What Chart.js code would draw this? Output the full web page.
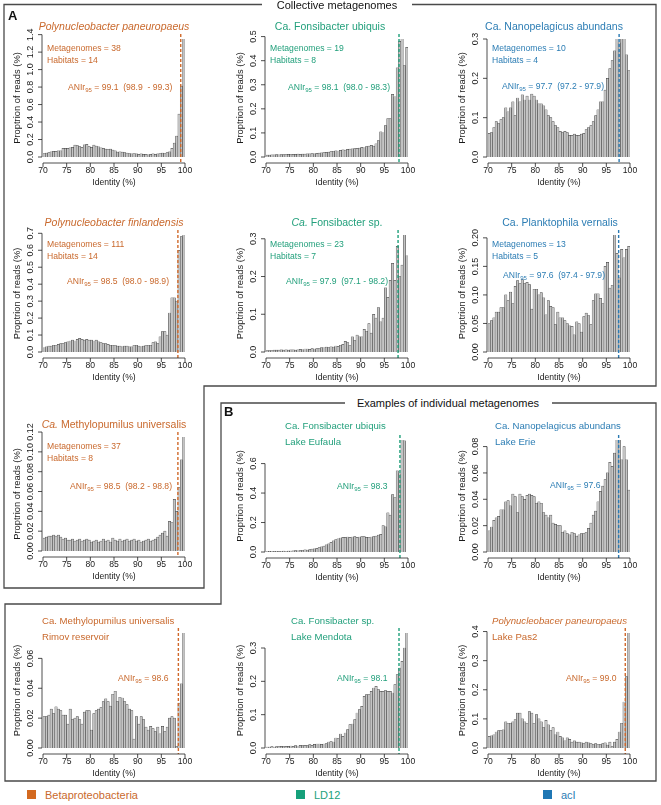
<!DOCTYPE html>
<html>
<head>
<meta charset="utf-8">
<title>ANIr histograms</title>
<script src="https://cdn.jsdelivr.net/npm/chart.js@4.4.1/dist/chart.umd.min.js"></script>
<style>
  body { margin: 0; background: #fff; }
  #page { position: relative; width: 661px; height: 805px; overflow: hidden; font-family: "Liberation Sans", Arial, sans-serif; }
  #page canvas { position: absolute; }
  .t { position: absolute; white-space: pre; line-height: 1; }
  .ttl { font-size: 10.5px; }
  .ttlB { font-size: 9.6px; }
  .st { font-size: 8.6px; }
  .hdr { font-size: 11px; color: #111; }
  .lab { font-size: 13px; font-weight: bold; color: #111; }
  .leg { font-size: 11px; }
  .sq { position: absolute; width: 9px; height: 9px; }
  sub { font-size: 70%; vertical-align: -2px; line-height: 0; }
  .beta { color: #c9692d; } .ld12 { color: #23a07c; } .aci { color: #2c7db4; }
</style>
</head>
<body>
<div id="page">
  <svg width="661" height="805" style="position:absolute;left:0;top:0">
    <polyline points="262,4.5 4,4.5 4,588 204,588 204,386 656,386 656,4.5 412,4.5" fill="none" stroke="#4a4a4a" stroke-width="1.3"/>
    <polyline points="345,403 221,403 221,604 5,604 5,781 656,781 656,403 552,403" fill="none" stroke="#4a4a4a" stroke-width="1.3"/>
  </svg>
</div>
<script>
// identity bins of 0.5 % between 70 and 100
const bins = Array.from({ length: 60 }, (_, i) => 70.25 + i * 0.5);
const xTicks = [70, 75, 80, 85, 90, 95, 100];

// A - collective metagenomes
const pPaneuropaeus = [
  0.040,0.045,0.050,0.060,0.065,0.065,0.070,0.070,0.100,0.100,
  0.100,0.105,0.110,0.135,0.130,0.120,0.110,0.140,0.145,0.120,
  0.110,0.135,0.125,0.115,0.105,0.100,0.090,0.085,0.090,0.080,
  0.070,0.055,0.060,0.055,0.050,0.045,0.040,0.035,0.040,0.035,
  0.030,0.035,0.030,0.030,0.025,0.030,0.035,0.030,0.035,0.040,
  0.045,0.040,0.050,0.060,0.100,0.160,0.240,0.490,0.810,1.350];
const fUbiquis = [
  0.008,0.008,0.009,0.009,0.010,0.009,0.010,0.010,0.010,0.011,
  0.010,0.011,0.011,0.012,0.011,0.012,0.012,0.013,0.013,0.014,
  0.013,0.015,0.016,0.017,0.018,0.019,0.020,0.022,0.024,0.026,
  0.025,0.028,0.030,0.029,0.032,0.033,0.034,0.035,0.036,0.037,
  0.040,0.038,0.043,0.045,0.048,0.045,0.055,0.068,0.105,0.100,
  0.130,0.160,0.160,0.260,0.250,0.370,0.480,0.490,0.380,0.455];
const nAbundans = [
  0.060,0.062,0.075,0.090,0.085,0.095,0.100,0.125,0.115,0.125,
  0.140,0.105,0.150,0.140,0.158,0.145,0.155,0.145,0.160,0.155,
  0.145,0.135,0.135,0.130,0.120,0.105,0.100,0.090,0.080,0.075,
  0.065,0.062,0.065,0.062,0.055,0.055,0.058,0.055,0.055,0.058,
  0.060,0.070,0.075,0.080,0.090,0.105,0.120,0.140,0.140,0.170,
  0.200,0.225,0.245,0.270,0.300,0.290,0.300,0.300,0.260,0.220];
const pFinlandensis = [
  0.025,0.030,0.035,0.035,0.040,0.040,0.045,0.050,0.050,0.055,
  0.060,0.065,0.070,0.065,0.075,0.080,0.075,0.070,0.075,0.070,
  0.070,0.065,0.070,0.060,0.055,0.050,0.050,0.045,0.040,0.040,
  0.040,0.035,0.035,0.030,0.035,0.035,0.030,0.030,0.040,0.040,
  0.035,0.030,0.035,0.040,0.040,0.040,0.055,0.060,0.050,0.090,
  0.120,0.120,0.100,0.230,0.320,0.320,0.300,0.600,0.680,0.690];
const fSp = [
  0.004,0.004,0.004,0.005,0.005,0.005,0.006,0.005,0.006,0.005,
  0.006,0.006,0.005,0.006,0.007,0.006,0.008,0.008,0.007,0.009,
  0.008,0.009,0.010,0.012,0.011,0.013,0.012,0.014,0.013,0.016,
  0.015,0.018,0.020,0.028,0.025,0.018,0.040,0.030,0.045,0.040,
  0.040,0.060,0.055,0.075,0.050,0.100,0.090,0.118,0.080,0.090,
  0.170,0.145,0.190,0.235,0.190,0.280,0.200,0.230,0.310,0.255];
const pVernalis = [
  0.050,0.055,0.060,0.070,0.070,0.078,0.078,0.100,0.090,0.105,
  0.085,0.115,0.125,0.120,0.127,0.120,0.122,0.118,0.075,0.110,
  0.110,0.100,0.104,0.095,0.065,0.090,0.080,0.078,0.048,0.070,
  0.060,0.060,0.055,0.050,0.046,0.045,0.030,0.053,0.050,0.035,
  0.062,0.068,0.064,0.048,0.090,0.102,0.102,0.094,0.085,0.150,
  0.157,0.112,0.117,0.205,0.173,0.130,0.180,0.165,0.180,0.185];
const mUniversalis = [
  0.013,0.014,0.015,0.015,0.016,0.015,0.016,0.014,0.012,0.013,
  0.011,0.011,0.012,0.010,0.011,0.012,0.010,0.011,0.012,0.011,
  0.009,0.010,0.011,0.009,0.010,0.012,0.010,0.011,0.009,0.013,
  0.011,0.010,0.012,0.010,0.011,0.012,0.010,0.011,0.012,0.010,
  0.011,0.009,0.010,0.011,0.012,0.010,0.011,0.012,0.014,0.016,
  0.018,0.020,0.015,0.030,0.029,0.052,0.040,0.064,0.092,0.115];

// B - individual metagenomes
const fUbiquisEufaula = [
  0.003,0.004,0.003,0.004,0.005,0.004,0.005,0.006,0.005,0.006,
  0.007,0.008,0.009,0.008,0.010,0.012,0.014,0.013,0.016,0.020,
  0.022,0.025,0.030,0.035,0.040,0.048,0.055,0.065,0.075,0.085,
  0.090,0.095,0.100,0.100,0.102,0.100,0.102,0.104,0.100,0.102,
  0.105,0.104,0.100,0.098,0.102,0.104,0.108,0.115,0.120,0.180,
  0.170,0.265,0.250,0.390,0.370,0.550,0.530,0.760,0.755,0.000];
const nAbundansErie = [
  0.016,0.019,0.024,0.026,0.027,0.032,0.032,0.038,0.039,0.035,
  0.044,0.042,0.030,0.044,0.042,0.040,0.043,0.044,0.043,0.042,
  0.037,0.038,0.037,0.030,0.028,0.026,0.028,0.022,0.021,0.020,
  0.020,0.015,0.016,0.014,0.013,0.015,0.014,0.012,0.013,0.014,
  0.014,0.015,0.018,0.022,0.028,0.031,0.038,0.046,0.050,0.055,
  0.060,0.068,0.065,0.075,0.085,0.085,0.070,0.080,0.070,0.047];
const mUniversalisRimov = [
  0.021,0.021,0.022,0.026,0.023,0.0275,0.026,0.025,0.022,0.022,
  0.016,0.026,0.019,0.020,0.021,0.019,0.016,0.024,0.025,0.025,
  0.012,0.023,0.025,0.026,0.027,0.031,0.033,0.031,0.028,0.036,
  0.038,0.031,0.034,0.0335,0.031,0.029,0.026,0.025,0.006,0.021,
  0.016,0.021,0.019,0.014,0.012,0.0145,0.013,0.011,0.014,0.0095,
  0.0145,0.011,0.014,0.020,0.021,0.020,0.001,0.030,0.043,0.077];
const fSpMendota = [
  0.003,0.003,0.004,0.003,0.004,0.004,0.005,0.004,0.005,0.005,
  0.006,0.005,0.007,0.006,0.008,0.007,0.008,0.007,0.010,0.008,
  0.011,0.012,0.012,0.011,0.012,0.013,0.018,0.019,0.018,0.030,
  0.028,0.042,0.035,0.045,0.055,0.070,0.072,0.085,0.105,0.115,
  0.125,0.155,0.160,0.160,0.170,0.180,0.185,0.175,0.170,0.170,
  0.172,0.170,0.170,0.165,0.190,0.220,0.240,0.260,0.300,0.345];
const pPaneuropaeusPas2 = [
  0.040,0.042,0.045,0.055,0.060,0.060,0.062,0.090,0.085,0.085,
  0.090,0.098,0.120,0.120,0.100,0.090,0.085,0.125,0.120,0.085,
  0.115,0.100,0.090,0.070,0.095,0.080,0.060,0.070,0.045,0.055,
  0.040,0.035,0.025,0.035,0.030,0.020,0.025,0.020,0.020,0.018,
  0.015,0.020,0.018,0.015,0.013,0.015,0.013,0.012,0.015,0.018,
  0.010,0.020,0.005,0.020,0.030,0.055,0.085,0.158,0.245,0.395];

// annotations
const aniValues = [99.1, 98.1, 97.7, 98.5, 97.9, 97.6, 98.5, 98.3, 97.6, 98.6, 98.1, 99.0];
const aniRanges = ['98.9  - 99.3', '98.0 - 98.3', '97.2 - 97.9', '98.0 - 98.9', '97.1 - 98.2', '97.4 - 97.9', '98.2 - 98.8'];
const metagenomes = [38, 19, 10, 111, 23, 13, 37];
const habitats = [14, 8, 4, 14, 7, 5, 8];
const sites = ['Lake Eufaula', 'Lake Erie', 'Rimov reservoir', 'Lake Mendota', 'Lake Pas2'];
const titles = [
  '<i>Polynucleobacter paneuropaeus</i>', 'Ca. Fonsibacter ubiquis', 'Ca. Nanopelagicus abundans',
  '<i>Polynucleobacter finlandensis</i>', '<i>Ca.</i> Fonsibacter sp.', 'Ca. Planktophila vernalis',
  '<i>Ca.</i> Methylopumilus universalis',
  'Ca. Fonsibacter ubiquis', 'Ca. Nanopelagicus abundans', 'Ca. Methylopumilus universalis',
  'Ca. Fonsibacter sp.', '<i>Polynucleobacer paneuropaeus</i>'];
const groups = ['beta', 'ld12', 'aci', 'beta', 'ld12', 'aci', 'beta', 'ld12', 'aci', 'beta', 'ld12', 'beta'];
const legendLabels = ['Betaproteobacteria', 'LD12', 'acI'];

// y tick values
const yTicks = [
  [0, 0.2, 0.4, 0.6, 0.8, 1.0, 1.2, 1.4], [0, 0.1, 0.2, 0.3, 0.4, 0.5], [0, 0.1, 0.2, 0.3],
  [0, 0.1, 0.2, 0.3, 0.4, 0.5, 0.6, 0.7], [0, 0.1, 0.2, 0.3], [0, 0.05, 0.10, 0.15, 0.20],
  [0, 0.02, 0.04, 0.06, 0.08, 0.10, 0.12],
  [0, 0.2, 0.4, 0.6], [0, 0.02, 0.04, 0.06, 0.08], [0, 0.02, 0.04, 0.06],
  [0, 0.1, 0.2, 0.3], [0, 0.1, 0.2, 0.3, 0.4]];
const yDecimals = [1, 1, 1, 1, 1, 2, 2, 1, 2, 2, 1, 1];
const series = [pPaneuropaeus, fUbiquis, nAbundans, pFinlandensis, fSp, pVernalis, mUniversalis,
  fUbiquisEufaula, nAbundansErie, mUniversalisRimov, fSpMendota, pPaneuropaeusPas2];

const groupColor = { beta: '#d0692a', ld12: '#1f9f7a', aci: '#2a7ab3' };

// layout
const colLeft = [43, 266, 488];
const rows = [
  { top: 38.5, zero: 157 }, { top: 235, zero: 352 }, { top: 437, zero: 551 },
  { top: 440, zero: 552 }, { top: 633, zero: 748 }];
const cells = [[0, 0], [1, 0], [2, 0], [0, 1], [1, 1], [2, 1], [0, 2], [1, 3], [2, 3], [0, 4], [1, 4], [2, 4]];

const rAxes = {
  id: 'rAxes',
  afterDatasetsDraw(chart, args, o) {
    const { ctx, chartArea: a, scales: { x, y } } = chart;
    const axisY = a.bottom + 6;
    ctx.save();
    // ANIr95 line
    const xa = x.getPixelForValue(o.ani);
    ctx.strokeStyle = o.color;
    ctx.lineWidth = 1.4;
    ctx.setLineDash([3, 2]);
    ctx.beginPath();
    ctx.moveTo(xa, a.top - 5);
    ctx.lineTo(xa, axisY);
    ctx.stroke();
    ctx.setLineDash([]);

    ctx.strokeStyle = '#222';
    ctx.fillStyle = '#1a1a1a';
    ctx.lineWidth = 0.8;
    ctx.textAlign = 'center';
    ctx.textBaseline = 'middle';

    // x axis
    ctx.beginPath();
    ctx.moveTo(x.getPixelForValue(xTicks[0]), axisY);
    ctx.lineTo(x.getPixelForValue(xTicks[xTicks.length - 1]), axisY);
    xTicks.forEach(v => {
      const px = x.getPixelForValue(v);
      ctx.moveTo(px, axisY);
      ctx.lineTo(px, axisY + 4);
    });
    ctx.stroke();
    ctx.font = '8.6px "Liberation Sans", Arial, sans-serif';
    xTicks.forEach(v => ctx.fillText(String(v), x.getPixelForValue(v), a.bottom + 14));
    ctx.fillText('Identity (%)', (a.left + a.right) / 2, a.bottom + 26);

    // y axis
    const ax = a.left - 1;
    const yt = o.ticks;
    ctx.beginPath();
    ctx.moveTo(ax, y.getPixelForValue(yt[0]));
    ctx.lineTo(ax, y.getPixelForValue(yt[yt.length - 1]));
    yt.forEach(v => {
      const py = y.getPixelForValue(v);
      ctx.moveTo(ax, py);
      ctx.lineTo(ax - 4, py);
    });
    ctx.stroke();
    ctx.font = '9px "Liberation Sans", Arial, sans-serif';
    yt.forEach(v => {
      ctx.save();
      ctx.translate(ax - 11, y.getPixelForValue(v));
      ctx.rotate(-Math.PI / 2);
      ctx.fillText(v.toFixed(o.dec), 0, 0);
      ctx.restore();
    });
    ctx.font = '9.4px "Liberation Sans", Arial, sans-serif';
    ctx.translate(a.left - 26, (a.top + a.bottom) / 2);
    ctx.rotate(-Math.PI / 2);
    ctx.fillText('Proptrion of reads (%)', 0, 0);
    ctx.restore();
  }
};

const page = document.getElementById('page');

series.forEach((data, i) => {
  const L = colLeft[cells[i][0]], R = rows[cells[i][1]];
  const W = 205, H = (R.zero - R.top) + 50;
  const cv = document.createElement('canvas');
  cv.width = W;
  cv.height = H;
  cv.style.left = (L - 45) + 'px';
  cv.style.top = (R.top - 14) + 'px';
  page.appendChild(cv);
  new Chart(cv, {
    type: 'bar',
    data: {
      datasets: [{
        data: bins.map((b, k) => ({ x: b, y: data[k] })),
        backgroundColor: '#c4c4c4',
        borderColor: '#333',
        borderWidth: 0.45,
        borderSkipped: false,
        barPercentage: 1,
        categoryPercentage: 1
      }]
    },
    options: {
      responsive: false,
      animation: false,
      events: [],
      layout: { padding: { left: 45, right: W - 45 - 142, top: 14, bottom: 36 } },
      scales: {
        x: { type: 'linear', min: 70, max: 100, offset: false, display: false },
        y: { min: 0, max: Math.max(...data), display: false }
      },
      plugins: {
        legend: { display: false },
        tooltip: { enabled: false },
        rAxes: { ticks: yTicks[i], dec: yDecimals[i], ani: aniValues[i], color: groupColor[groups[i]] }
      }
    },
    plugins: [rAxes]
  });
});

function text(html, x, y, cls, centred) {
  const d = document.createElement('div');
  d.className = 't ' + cls;
  d.innerHTML = html;
  d.style.left = x + 'px';
  d.style.top = y + 'px';
  d.style.transform = centred ? 'translate(-50%,-50%)' : 'translateY(-50%)';
  page.appendChild(d);
}

// panel A texts
const aTitleXY = [[114, 26], [330, 26], [554, 26], [114, 222], [337, 222], [560, 222], [114, 424]];
const aStatsXY = [[47, 48], [270, 48], [492, 48], [47, 244], [270, 244], [492, 244], [47, 446]];
const aAniXY = [[68, 87], [288, 87], [502, 86], [67, 281], [286, 281], [503, 275], [70, 486]];
for (let i = 0; i < 7; i++) {
  const g = groups[i];
  text(titles[i], aTitleXY[i][0], aTitleXY[i][1], 'ttl ' + g, true);
  text('Metagenomes = ' + metagenomes[i], aStatsXY[i][0], aStatsXY[i][1], 'st ' + g);
  text('Habitats = ' + habitats[i], aStatsXY[i][0], aStatsXY[i][1] + 12, 'st ' + g);
  text('ANIr<sub>95</sub> = ' + aniValues[i].toFixed(1) + '  (' + aniRanges[i] + ')',
    aAniXY[i][0], aAniXY[i][1], 'st ' + g);
}

// panel B texts
const bTitleXY = [[285, 426], [495, 426], [42, 621], [291, 621], [492, 621]];
const bAniXY = [[337, 486], [550, 485], [118, 678], [337, 678], [566, 678]];
for (let j = 0; j < 5; j++) {
  const i = j + 7, g = groups[i];
  text(titles[i], bTitleXY[j][0], bTitleXY[j][1], 'ttlB ' + g);
  text(sites[j], bTitleXY[j][0], bTitleXY[j][1] + 16, 'ttlB ' + g);
  text('ANIr<sub>95</sub> = ' + aniValues[i].toFixed(1), bAniXY[j][0], bAniXY[j][1], 'st ' + g);
}

// headers and panel letters
text('Collective metagenomes', 337, 5, 'hdr', true);
text('Examples of individual metagenomes', 448, 403, 'hdr', true);
text('A', 8, 15, 'lab');
text('B', 224, 411, 'lab');

// legend
const legendX = [27, 296, 543];
const legendColors = ['#d3691f', '#16a07a', '#1f77b4'];
legendLabels.forEach((lbl, k) => {
  const s = document.createElement('div');
  s.className = 'sq';
  s.style.left = legendX[k] + 'px';
  s.style.top = '790px';
  s.style.background = legendColors[k];
  page.appendChild(s);
  text(lbl, legendX[k] + 18, 795, 'leg ' + groups[k]);
});
</script>
</body>
</html>
